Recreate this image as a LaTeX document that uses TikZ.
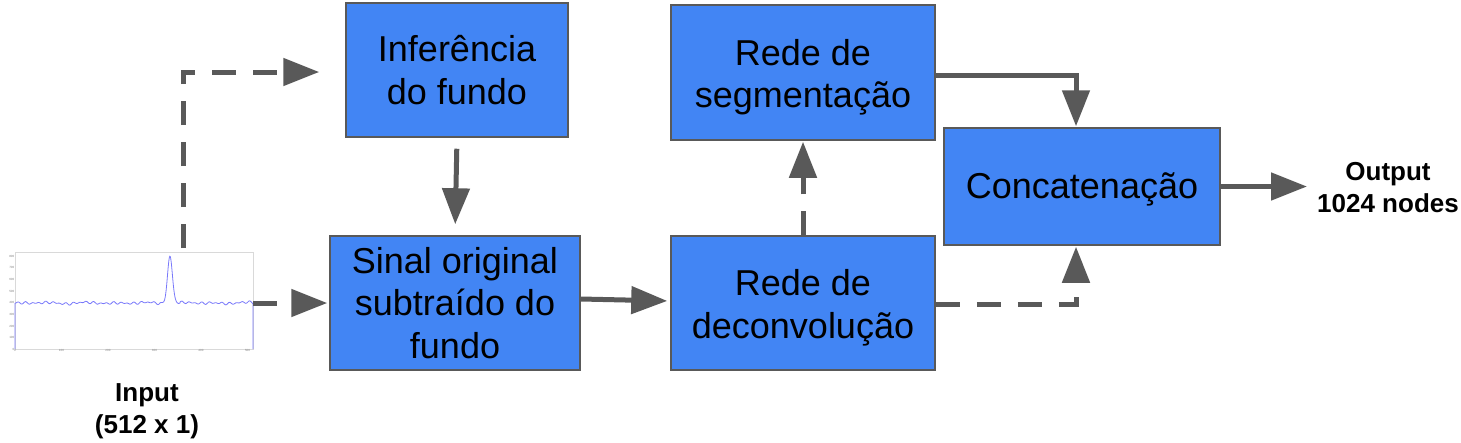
\documentclass[tikz,border=0pt]{standalone}
\usepackage{fontspec}
\setmainfont{Liberation Sans}
\usetikzlibrary{arrows.meta,calc}
\definecolor{boxblue}{RGB}{66,133,244}
\definecolor{arrgray}{RGB}{89,89,89}
\definecolor{plotblue}{RGB}{120,120,250}
\tikzset{
  box/.style={draw=arrgray, line width=1.5pt, fill=boxblue, align=center, text=black,
    font=\fontsize{36}{42.5}\selectfont, inner sep=0pt},
  boxtext/.style={align=center, text=black, font=\fontsize{36}{42.5}\selectfont, inner sep=0pt},
  sarr/.style={draw=arrgray, line width=5pt, -{Triangle[length=36pt,width=27pt]}},
  darr/.style={sarr, dash pattern=on 24pt off 17pt},
  lbl/.style={align=center, font=\bfseries\fontsize{26}{32}\selectfont, inner sep=0pt},
  tick/.style={font=\fontsize{3}{3}\selectfont, text=gray, inner sep=0.5pt}
}
\begin{document}
\begin{tikzpicture}[x=1pt,y=-1pt]
\useasboundingbox (0,0) rectangle (1461,442);
% boxes
\node[box, minimum width=222pt, minimum height=134pt] (inf) at (457,70) {Inferência\\do fundo};
\node[box, minimum width=250pt, minimum height=134pt] (sig) at (455,303) {Sinal original\\subtraído do\\fundo};
\node[box, minimum width=264pt, minimum height=135pt,
  label={[boxtext, yshift=-5pt]center:Rede de\\segmentação}] (seg) at (803,72.5) {};
\node[box, minimum width=264pt, minimum height=134pt,
  label={[boxtext, yshift=-5pt]center:Rede de\\deconvolução}] (dec) at (803,303) {};
\node[box, minimum width=276pt, minimum height=117pt,
  label={[boxtext, yshift=-3pt]center:Concatenação}] (conc) at (1082,186.5) {};
% input plot
\node[draw=gray!30, line width=0.8pt, minimum width=238pt, minimum height=97pt, inner sep=0pt] (plot) at (134,301) {};
\draw[plotblue, line width=0.8pt]
  (15,349) -- (15,303)
  -- plot[domain=15:160, samples=140] (\x, {303 + 0.8*sin(\x*53) + 0.6*sin(\x*37+30) + 0.5*sin(\x*11+70) + 0.4*sin(\x*7)})
  -- plot[domain=160:180, samples=40] (\x, {303 - 47*exp(-((\x-170)^2)/(2*2.4*2.4)) + 0.5*sin(\x*53)})
  -- plot[domain=180:253, samples=70] (\x, {303 + 0.8*sin(\x*53) + 0.6*sin(\x*37+30) + 0.5*sin(\x*11+70) + 0.4*sin(\x*7)})
  -- (253,349);
\foreach \v/\yy in {0/349,100/337.5,200/326,300/314,400/302.5,500/291,600/279,700/267.5,800/256}
  \node[tick, anchor=east] at (15,\yy) {\v};
\foreach \v/\xx in {0/15,100/61.5,200/108,300/154.5,400/201,500/247.5}
  \node[tick, anchor=north] at (\xx,349) {\v};
% labels
\node[lbl] (inlbl) at (147,411) {Input\\(512 x 1)};
\node[lbl] (outlbl) at (1388,187.5) {Output\\1024 nodes};
% connectors
\coordinate (s1) at (183,248);
\draw[darr, shorten >=26pt] (s1) |- ([yshift=-2pt]inf.west);
\draw[sarr, shorten <=11pt, shorten >=11pt] (inf.south) -- (sig.north);
\draw[darr, shorten >=2pt] (plot.east |- 0,303) -- (sig.west);
\draw[sarr, shorten >=3pt] ([yshift=4pt]sig.east) -- ([yshift=2pt]dec.west);
\draw[darr, shorten >=1pt] (dec.north) -- (seg.south);
\draw[sarr, shorten >=1pt] ([yshift=-2.5pt]seg.east) -| ([xshift=-6pt]conc.north);
\draw[darr, shorten >=1pt] ([yshift=-1pt]dec.east) -| ([xshift=-6pt]conc.south);
\draw[sarr, shorten >=10pt] (conc.east) -- (outlbl.west |- conc.east);
\end{tikzpicture}
\end{document}
